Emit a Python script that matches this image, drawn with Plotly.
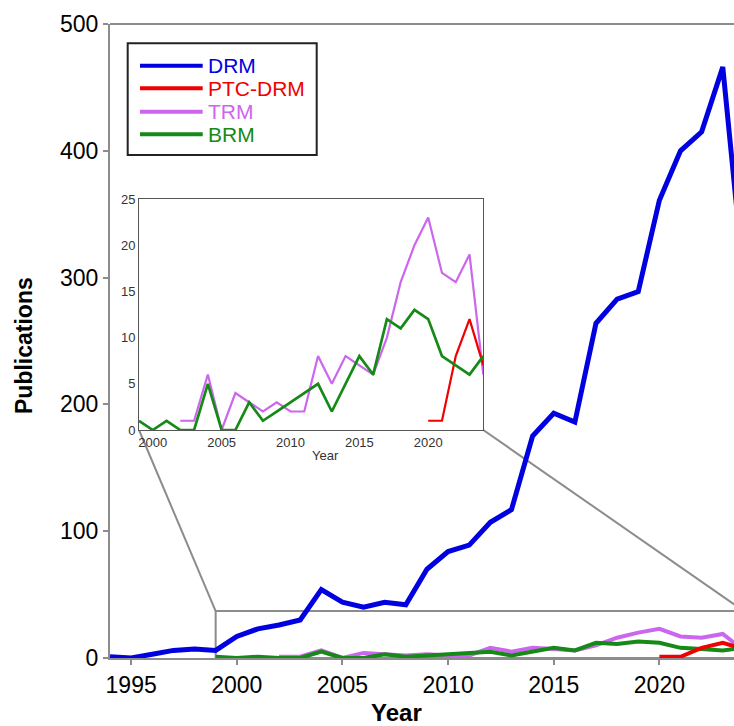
import plotly.graph_objects as go

# ---------------- data ----------------
years_drm = list(range(1994, 2025))
drm = [1, 0, 3, 6, 7, 6, 17, 23, 26, 30, 54, 44, 40, 44, 42, 70, 84, 89, 107, 117,
       175, 193, 186, 264, 283, 289, 361, 400, 415, 466, 297]
years_ptc = list(range(2020, 2025))
ptc_drm = [1, 1, 8, 12, 7]
years_trm = list(range(2002, 2025))
trm = [1, 1, 6, 0, 4, 3, 2, 3, 2, 2, 8, 5, 8, 7, 6, 10, 16, 20, 23, 17, 16, 19, 6]
years_brm = list(range(1999, 2025))
brm = [1, 0, 1, 0, 0, 5, 0, 0, 3, 1, 2, 3, 4, 5, 2, 5, 8, 6, 12, 11, 13, 12, 8, 7, 6, 8]

series_names = ["DRM", "PTC-DRM", "TRM", "BRM"]
series_colors = ["#0000E0", "#F00000", "#CC66EE", "#168A16"]

main_x_ticks = [1995, 2000, 2005, 2010, 2015, 2020]
main_y_ticks = [0, 100, 200, 300, 400, 500]
inset_x_ticks = [2000, 2005, 2010, 2015, 2020]
inset_y_ticks = [0, 5, 10, 15, 20, 25]

# ---------------- layout geometry ----------------
W, H = 734, 726
ML, MR, MT, MB = 110, 0, 24, 68
PW, PH = W - ML - MR, H - MT - MB
XR = [1994, 1994 + PW / 21.13]
YR = [0, 500]
INSET_XR = [1999, 2024]
INSET_YR = [0, 25]
ZOOM_TOP = 37  # top of the zoom rectangle (data units)


def px_x(p):
    # screen pixel -> paper coordinate
    return (p - ML) / PW


def px_y(p):
    return (H - MB - p) / PH


inset_dx = [px_x(139), px_x(483.3)]
inset_dy = [px_y(430), px_y(199)]

FONT = "Arial, Liberation Sans, sans-serif"

fig = go.Figure()

main_series = [
    (years_trm, trm, 2, 4),
    (years_brm, brm, 3, 4),
    (years_ptc, ptc_drm, 1, 4),
    (years_drm, drm, 0, 5),
]
for xs, ys, ci, w in main_series:
    fig.add_trace(go.Scatter(x=xs, y=ys, mode="lines", name=series_names[ci],
                             line=dict(color=series_colors[ci], width=w),
                             showlegend=False, xaxis="x", yaxis="y"))

inset_series = [
    (years_trm, trm, 2, 2.2),
    (years_ptc, ptc_drm, 1, 2.2),
    (years_brm, brm, 3, 2.7),
]
for xs, ys, ci, w in inset_series:
    fig.add_trace(go.Scatter(x=xs, y=ys, mode="lines", name=series_names[ci],
                             line=dict(color=series_colors[ci], width=w),
                             showlegend=False, xaxis="x2", yaxis="y2"))


def dom_to_x(d):
    return XR[0] + d * (XR[1] - XR[0])


def dom_to_y(d):
    return YR[0] + d * (YR[1] - YR[0])


shapes = []
GRAY = "#8C8C8C"
# zoom rectangle in main axes
shapes.append(dict(type="rect", xref="x", yref="y", x0=INSET_XR[0], x1=INSET_XR[1],
                   y0=0, y1=ZOOM_TOP, line=dict(color=GRAY, width=2), layer="below"))
# connectors from inset corners to the zoom rectangle
shapes.append(dict(type="line", xref="x", yref="y",
                   x0=dom_to_x(inset_dx[0]), y0=dom_to_y(inset_dy[0]),
                   x1=INSET_XR[0], y1=ZOOM_TOP,
                   line=dict(color=GRAY, width=2), layer="below"))
shapes.append(dict(type="line", xref="x", yref="y",
                   x0=dom_to_x(inset_dx[1]), y0=dom_to_y(inset_dy[0]),
                   x1=INSET_XR[1], y1=ZOOM_TOP,
                   line=dict(color=GRAY, width=2), layer="below"))
# top border of main plot
shapes.append(dict(type="line", xref="paper", yref="paper", x0=0, x1=1, y0=1, y1=1,
                   line=dict(color=GRAY, width=2)))
# inset background
shapes.append(dict(type="rect", xref="paper", yref="paper",
                   x0=inset_dx[0], x1=inset_dx[1], y0=inset_dy[0], y1=inset_dy[1],
                   fillcolor="white", line=dict(width=0), layer="below"))

# legend box
shapes.append(dict(type="rect", xref="paper", yref="paper",
                   x0=px_x(127.7), x1=px_x(316.7), y0=px_y(155), y1=px_y(43.3),
                   line=dict(color="#222222", width=2), fillcolor="white"))
annotations = []
row_y = [65.7, 88.3, 111.7, 134.3]
for i, name in enumerate(series_names):
    shapes.append(dict(type="line", xref="paper", yref="paper",
                       x0=px_x(140), x1=px_x(202.7), y0=px_y(row_y[i]), y1=px_y(row_y[i]),
                       line=dict(color=series_colors[i], width=4)))
    annotations.append(dict(xref="paper", yref="paper", x=px_x(206), y=px_y(row_y[i]),
                            text=name, showarrow=False, xanchor="left", yanchor="middle",
                            font=dict(family=FONT, size=21, color=series_colors[i])))

annotations.append(dict(xref="paper", yref="paper", x=px_x(24), y=px_y(346),
                        text="<b>Publications</b>", textangle=-90, showarrow=False,
                        xanchor="center", yanchor="middle",
                        font=dict(family=FONT, size=23, color="black")))
annotations.append(dict(xref="paper", yref="paper", x=px_x(396), y=px_y(713),
                        text="<b>Year</b>", showarrow=False,
                        xanchor="center", yanchor="middle",
                        font=dict(family=FONT, size=24, color="black")))
annotations.append(dict(xref="paper", yref="paper", x=px_x(325), y=px_y(455),
                        text="Year", showarrow=False,
                        xanchor="center", yanchor="middle",
                        font=dict(family=FONT, size=13, color="#333333")))

fig.update_layout(
    width=W, height=H,
    margin=dict(l=ML, r=MR, t=MT, b=MB),
    paper_bgcolor="white", plot_bgcolor="white",
    showlegend=False,
    font=dict(family=FONT, color="black"),
    shapes=shapes, annotations=annotations,
    xaxis=dict(range=XR, tickvals=main_x_ticks, ticks="outside", ticklen=5,
               tickcolor=GRAY, tickwidth=1.5, showline=True, linecolor=GRAY,
               linewidth=2, showgrid=False, zeroline=False,
               tickfont=dict(family=FONT, size=23, color="black")),
    yaxis=dict(range=YR, tickvals=main_y_ticks, ticks="outside", ticklen=5,
               tickcolor=GRAY, tickwidth=1.5, showline=True, linecolor=GRAY,
               linewidth=2, showgrid=False, zeroline=False,
               tickfont=dict(family=FONT, size=23, color="black")),
    xaxis2=dict(domain=inset_dx, anchor="y2", range=INSET_XR, tickvals=inset_x_ticks,
                ticks="", showline=True, mirror=True, linecolor="#555555", linewidth=1,
                showgrid=False, zeroline=False,
                tickfont=dict(family=FONT, size=13, color="#333333")),
    yaxis2=dict(domain=inset_dy, anchor="x2", range=INSET_YR, tickvals=inset_y_ticks,
                ticks="", showline=True, mirror=True, linecolor="#555555", linewidth=1,
                showgrid=False, zeroline=False,
                tickfont=dict(family=FONT, size=13, color="#333333")),
)

fig.write_html(
    "out.html",
    config={"displayModeBar": False},
    post_script="document.documentElement.style.margin='0';"
                "document.body.style.margin='0';"
                "document.body.style.overflow='hidden';",
)
